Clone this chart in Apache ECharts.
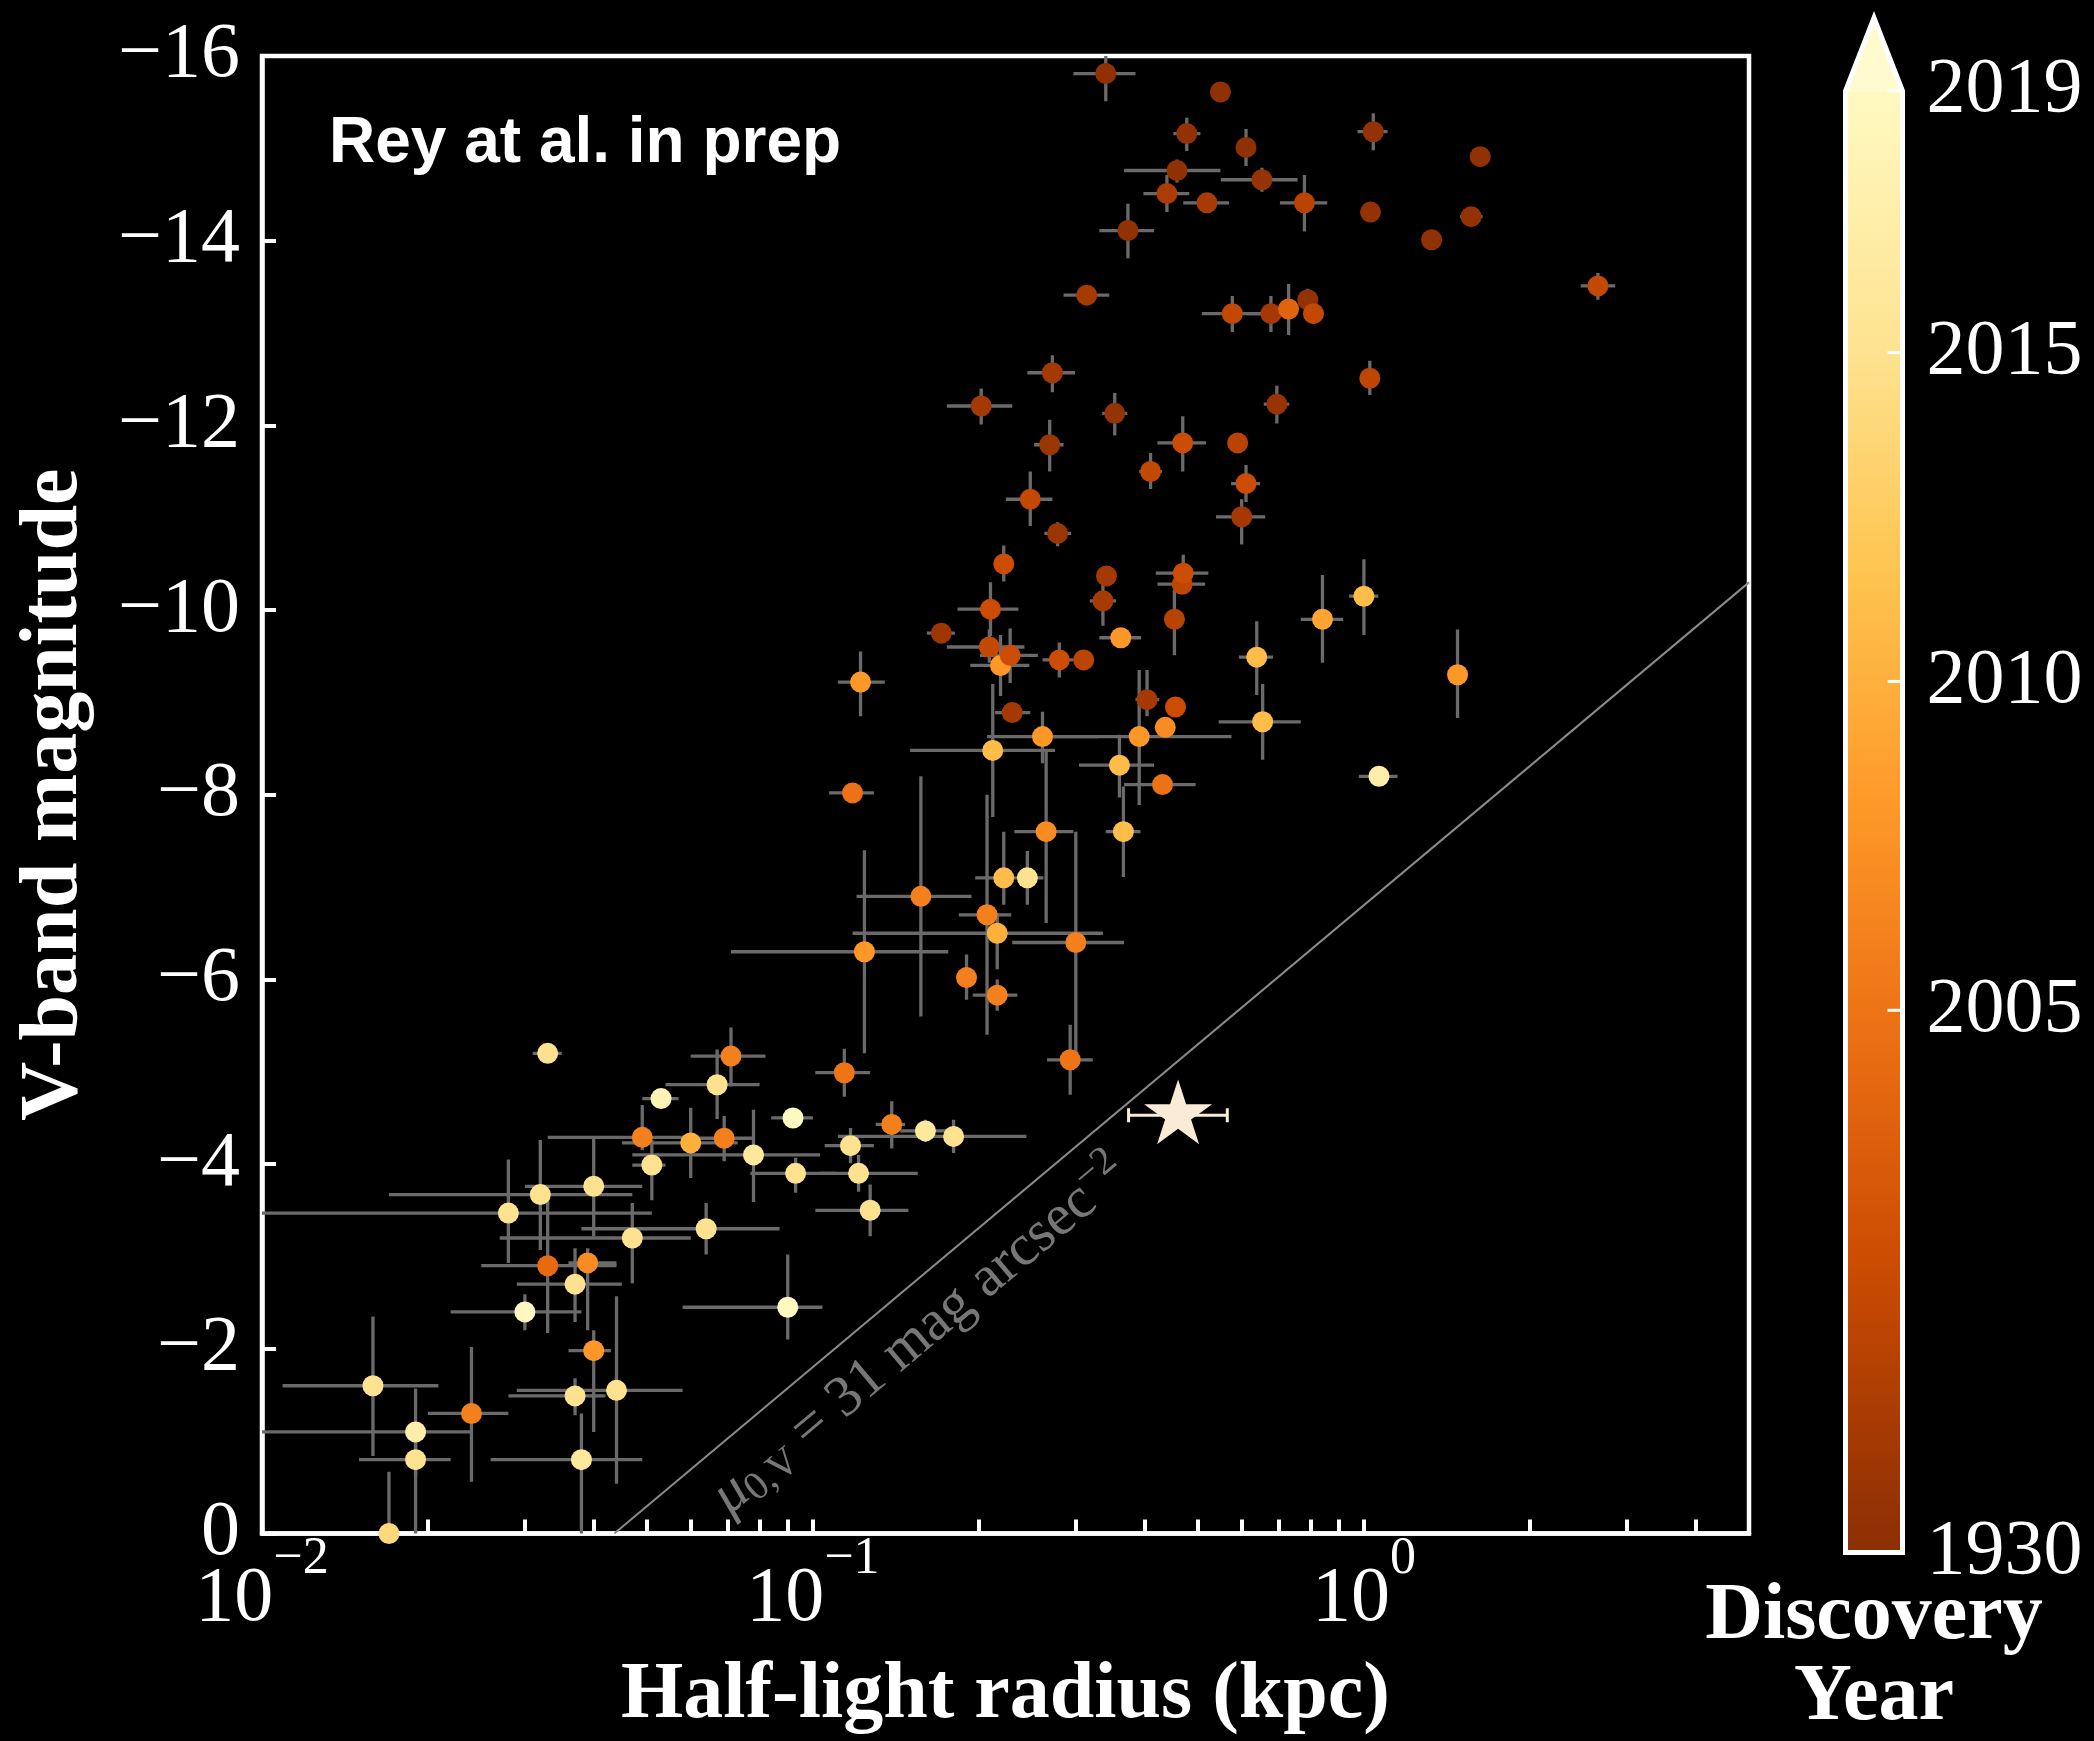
<!DOCTYPE html>
<html lang="en">
<head>
<meta charset="UTF-8">
<title>V-band magnitude vs half-light radius</title>
<script src="https://cdn.jsdelivr.net/npm/echarts@6/dist/echarts.min.js"></script>
<style>
    html, body { margin: 0; padding: 0; background: #000; overflow: hidden; }
    #chart { width: 2094px; height: 1741px; }
</style>
</head>
<body>
<div id="chart"></div>
<script>
// values
var radius = [
    0.340, 0.549, 0.477, 0.611, 0.458, 0.653, 0.439, 0.519, 0.780, 0.373,
    0.314, 0.577, 0.678, 0.791, 0.730, 0.810, 0.272, 0.202, 0.353, 0.695,
    0.269, 0.469, 0.590, 1.040, 1.626, 1.028, 1.565, 1.327, 2.659, 1.025,
    0.410, 0.611, 0.600, 0.248, 0.278, 0.222, 0.341, 0.336, 0.468, 0.470,
    0.453, 0.210, 0.171, 0.209, 0.219, 0.228, 0.280, 0.310, 0.362, 0.639,
    0.655, 0.404, 0.455, 0.436, 0.261, 0.391, 0.212, 0.360, 0.431, 0.265,
    0.366, 0.222, 0.245, 0.122, 0.118, 0.841, 1.000, 1.479, 1.065, 0.230,
    0.157, 0.207, 0.216, 0.300, 0.124, 0.190, 0.216, 0.293, 0.071, 0.114,
    0.067, 0.053, 0.092, 0.139, 0.160, 0.180, 0.117, 0.049, 0.060, 0.069,
    0.051, 0.078, 0.093, 0.121, 0.127, 0.040, 0.064, 0.047, 0.032, 0.028,
    0.033, 0.039, 0.037, 0.030, 0.040, 0.044, 0.037, 0.0159, 0.024, 0.019,
    0.019, 0.038, 0.017, 0.033, 0.090
];
var magV = [
    -15.81, -15.61, -15.16, -15.01, -14.76, -14.66, -14.51, -14.41, -14.41, -14.11,
    -13.41, -13.21, -13.21, -13.36, -13.26, -13.21, -12.57, -12.21, -12.13, -12.23,
    -11.79, -11.81, -11.81, -15.18, -14.91, -14.31, -14.26, -14.01, -13.51, -12.51,
    -11.50, -11.37, -11.01, -11.20, -10.83, -10.50, -10.37, -10.10, -10.28, -10.40,
    -9.90, -10.01, -9.75, -9.60, -9.40, -9.51, -9.46, -9.46, -9.70, -9.49,
    -8.79, -9.03, -8.95, -8.73, -8.63, -8.63, -8.48, -8.32, -8.11, -7.60,
    -7.60, -7.10, -7.10, -9.22, -8.02, -9.90, -10.15, -9.30, -8.20, -8.89,
    -6.90, -6.70, -6.50, -6.40, -6.30, -6.02, -5.83, -5.13, -5.17, -4.99,
    -4.86, -4.71, -4.50, -4.43, -4.36, -4.30, -4.20, -4.29, -4.23, -4.28,
    -3.99, -4.10, -3.90, -3.90, -3.50, -3.76, -3.30, -3.20, -3.67, -3.47,
    -2.90, -2.93, -2.70, -2.40, -1.98, -1.55, -1.49, -1.60, -1.30, -1.10,
    -0.80, -0.80, 0.00, -5.20, -2.45
];
var radiusLow = [
    0.297, null, 0.451, null, 0.367, 0.550, 0.398, 0.470, 0.704, 0.331,
    0.285, 0.508, 0.612, null, null, null, 0.245, 0.175, 0.335, 0.658,
    0.252, 0.422, null, 0.974, null, null, 1.494, null, 2.474, null,
    0.391, 0.574, 0.539, 0.224, 0.263, null, null, 0.318, 0.422, 0.419,
    null, 0.183, 0.161, 0.175, 0.193, 0.201, 0.261, null, 0.331, 0.593,
    0.545, 0.385, null, null, 0.207, 0.266, 0.150, 0.304, 0.367, 0.232,
    0.340, 0.197, 0.238, 0.111, 0.107, 0.768, 0.940, null, 0.979, 0.214,
    0.120, 0.184, 0.118, 0.230, 0.071, null, 0.195, 0.266, 0.060, 0.101,
    0.054, 0.049, 0.084, 0.130, 0.144, 0.111, 0.105, 0.033, 0.045, 0.062,
    0.047, 0.047, 0.077, 0.103, 0.101, 0.030, 0.038, 0.027, 0.017, 0.0095,
    0.025, 0.036, 0.029, 0.022, 0.036, 0.029, 0.028, 0.0109, 0.020, 0.0095,
    0.015, 0.026, null, 0.031, 0.058
];
var radiusHigh = [
    0.385, null, 0.505, null, 0.549, 0.758, 0.482, 0.569, 0.858, 0.416,
    0.345, 0.656, 0.704, null, null, null, 0.299, 0.230, 0.372, 0.732,
    0.285, 0.517, null, 1.104, null, null, 1.642, null, 2.858, null,
    0.430, 0.648, 0.662, 0.272, 0.294, null, null, 0.355, 0.515, 0.522,
    null, 0.236, 0.181, 0.242, 0.247, 0.256, 0.297, null, 0.394, 0.684,
    0.768, 0.425, null, null, 0.330, 0.575, 0.275, 0.416, 0.495, 0.297,
    0.393, 0.243, 0.262, 0.135, 0.129, 0.917, 1.062, null, 1.151, 0.248,
    0.194, 0.229, 0.336, 0.367, 0.176, null, 0.235, 0.322, 0.082, 0.127,
    0.080, 0.057, 0.100, 0.147, 0.181, 0.244, 0.129, 0.062, 0.073, 0.078,
    0.054, 0.103, 0.110, 0.155, 0.149, 0.049, 0.087, 0.060, 0.047, 0.051,
    0.044, 0.044, 0.045, 0.038, 0.043, 0.058, 0.042, 0.0209, 0.028, 0.024,
    0.022, 0.049, null, 0.035, 0.104
];
var magLow = [
    -16.1, null, -15.33, -15.21, -14.88, -14.79, -14.71, null, -14.71, -14.40,
    null, -13.40, -13.40, -13.48, -13.53, null, -12.76, -12.40, -12.35, -12.43,
    -12.06, -12.10, null, -15.38, null, null, null, null, -13.65, -12.70,
    -11.70, -11.57, -11.20, -11.50, -10.95, -10.70, null, -10.28, null, -10.60,
    -10.22, -10.30, null, -9.79, -9.73, -9.80, -9.65, null, null, -9.88,
    -9.20, -9.35, null, null, -8.90, -9.35, -9.20, -8.65, null, -8.49,
    -8.09, -7.60, -7.39, -9.55, null, -10.38, -10.55, -9.79, null, null,
    -8.20, -8.00, -6.72, -7.60, -7.40, -6.27, -6.00, -5.51, -5.48, -5.25,
    -5.24, null, null, -4.68, -4.48, -4.48, -4.39, -4.64, -4.61, -4.52,
    -4.26, -4.59, -4.07, -4.10, -3.78, -4.30, -3.58, -3.58, -4.26, -4.05,
    -3.65, -3.09, -3.09, -2.59, -2.20, -2.57, -1.68, -2.35, -2.02, -1.57,
    -1.00, -1.30, -0.67, null, -3.02
];
var magHigh = [
    -15.51, null, -14.97, -14.81, -14.63, -14.53, -14.31, null, -14.10, -13.81,
    null, -13.01, -13.01, -13.23, -12.98, null, -12.36, -12.01, -11.89, -12.02,
    -11.50, -11.50, null, -14.98, null, null, null, null, -13.36, -12.33,
    -11.31, -11.17, -10.71, -10.91, -10.69, -10.31, null, -9.83, null, -10.22,
    -9.51, -9.72, null, -9.43, -9.07, -9.21, -9.27, null, null, -9.08,
    -8.38, -8.85, null, null, -8.34, -7.89, -7.76, -7.97, null, -6.61,
    -7.11, -6.81, -6.81, -8.85, null, -9.43, -9.73, -8.83, null, null,
    -5.60, -5.40, -6.11, -5.18, -5.20, -5.78, -5.66, -4.75, -4.84, -4.73,
    -4.49, null, null, -4.17, -4.24, -4.12, -4.01, -4.15, -3.85, -4.03,
    -3.61, -3.59, -3.69, -3.70, -3.22, -3.22, -3.02, -2.71, -3.07, -2.93,
    -2.17, -2.20, -2.29, -2.20, -1.10, -0.54, -1.28, -0.84, -0.56, -0.62,
    0.10, 0.10, 0.10, null, -2.10
];
var discoveryYear = [
    1933, 1933, 1934, 1933, 1933, 1936, 1950, 1948, 1958, 1934,
    1947, 1965, 1946, 1935, 1991, 1965, 1946, 1946, 1936, 1938,
    1940, 1970, 1958, 1935, 1934, 1935, 1935, 1934, 1965, 1962,
    1965, 1970, 1946, 1965, 1940, 1970, 1946, 1948, 1962, 1970,
    1958, 1970, 1942, 1965, 2008, 1970, 1970, 1960, 2008, 2011,
    2011, 1946, 1970, 2007, 2008, 2008, 2011, 2011, 2003, 2007,
    2011, 2011, 2015, 2008, 2003, 2009, 2011, 2008, 2017, 1946,
    2006, 2006, 2010, 2006, 2008, 2006, 2006, 2005, 2006, 2005,
    2015, 2018, 2019, 2006, 2016, 2015, 2015, 2006, 2010, 2006,
    2015, 2016, 2015, 2015, 2015, 2015, 2015, 2015, 2015, 2015,
    1997, 2007, 2015, 2019, 2008, 2015, 2015, 2015, 2006, 2017,
    2015, 2016, 2014, 2015, 2019
];

// the new object (star)
var starRadius = [0.46];
var starMag = [-4.53];
var starRadiusLow = [0.374];
var starRadiusHigh = [0.565];

// mu_0,V = 31 mag/arcsec^2 line, two end points
var muLineRadius = [0.0436, 5];
var muLineMag = [0, -10.3];

// axis ticks
var xTickValues = [0.01, 0.02, 0.03, 0.04, 0.05, 0.06, 0.07, 0.08, 0.09,
    0.1, 0.2, 0.3, 0.4, 0.5, 0.6, 0.7, 0.8, 0.9, 1, 2, 3, 4];
var xLabelValues = [0.01, 0.1, 1];

// colour bar: tick years and where they sit on the bar (0 = bottom, 1 = top)
var cbTickYears = [1930, 2005, 2010, 2015, 2019];
var cbTickFrac = [0, 0.371, 0.596, 0.821, 1];
var cbApexFrac = 1.05;

// YlOrBr reversed, only the 0.09..0.89 part is used by the bar
var cmapColors = ['#662506', '#993404', '#cc4c02', '#ec7014', '#fe9929',
    '#fec44f', '#fee391', '#fff7bc', '#ffffe5'];
var cmapRange = [0.09, 0.89];

var SERIF = "'Liberation Serif', 'Times New Roman', serif";
var SANS = "'Liberation Sans', Arial, sans-serif";
var BAR_GREY = '#6a6a6a';
var STAR_COLOR = '#faebd7';

function yearToFrac(y) {
    for (var i = 1; i < cbTickYears.length; i++) {
        if (y <= cbTickYears[i]) {
            var a = cbTickYears[i - 1], b = cbTickYears[i];
            return cbTickFrac[i - 1] + (y - a) / (b - a) * (cbTickFrac[i] - cbTickFrac[i - 1]);
        }
    }
    return 1;
}

function fracToColor(t) {
    var s = cmapRange[0] + t * (cmapRange[1] - cmapRange[0]);
    return echarts.color.lerp(s, cmapColors);
}

var pointData = radius.map(function (r, i) {
    return [r, magV[i], yearToFrac(discoveryYear[i])];
});
var errData = radius.map(function (r, i) {
    return [r, magV[i], radiusLow[i], radiusHigh[i], magLow[i], magHigh[i]];
});

function renderErr(params, api) {
    var r = api.value(0), m = api.value(1);
    var rl = api.value(2), rh = api.value(3), ml = api.value(4), mh = api.value(5);
    var st = { stroke: BAR_GREY, lineWidth: 3.3 };
    var kids = [];
    if (!isNaN(rl) && !isNaN(rh)) {
        var a = api.coord([rl, m]), b = api.coord([rh, m]);
        kids.push({ type: 'line', shape: { x1: a[0], y1: a[1], x2: b[0], y2: b[1] }, style: st });
    }
    if (!isNaN(ml) && !isNaN(mh)) {
        var c = api.coord([r, ml]), d = api.coord([r, mh]);
        kids.push({ type: 'line', shape: { x1: c[0], y1: c[1], x2: d[0], y2: d[1] }, style: st });
    }
    return { type: 'group', children: kids };
}

function renderStarBar(params, api) {
    var m = api.value(1);
    var a = api.coord([api.value(2), m]), b = api.coord([api.value(3), m]);
    var st = { stroke: STAR_COLOR, lineWidth: 3 };
    var cap = 7;
    return {
        type: 'group',
        children: [
            { type: 'line', shape: { x1: a[0], y1: a[1], x2: b[0], y2: b[1] }, style: st },
            { type: 'line', shape: { x1: a[0], y1: a[1] - cap, x2: a[0], y2: a[1] + cap }, style: st },
            { type: 'line', shape: { x1: b[0], y1: b[1] - cap, x2: b[0], y2: b[1] + cap }, style: st }
        ]
    };
}

function renderColorbar(params, api) {
    var lb = api.coord([0, 0]);
    var rt = api.coord([1, 1]);
    var tip = api.coord([0.5, cbApexFrac]);
    var s0 = cmapRange[0], s1 = cmapRange[1];
    var stops = [{ offset: 0, color: echarts.color.lerp(s0, cmapColors) }];
    for (var i = 0; i < cmapColors.length; i++) {
        var s = i / (cmapColors.length - 1);
        if (s > s0 && s < s1) {
            stops.push({ offset: (s - s0) / (s1 - s0), color: cmapColors[i] });
        }
    }
    stops.push({ offset: 1, color: echarts.color.lerp(s1, cmapColors) });
    var kids = [
        {
            type: 'rect',
            shape: { x: lb[0], y: rt[1], width: rt[0] - lb[0], height: lb[1] - rt[1] },
            style: { fill: new echarts.graphic.LinearGradient(0, 1, 0, 0, stops) }
        },
        {
            type: 'polygon',
            shape: { points: [[lb[0], rt[1] + 1], [rt[0], rt[1] + 1], tip] },
            style: { fill: echarts.color.lerp(0.93, cmapColors) }
        },
        {
            type: 'polygon',
            shape: { points: [[lb[0], lb[1]], [rt[0], lb[1]], [rt[0], rt[1]], tip, [lb[0], rt[1]]] },
            style: { fill: null, stroke: '#fff', lineWidth: 5, lineJoin: 'miter' }
        }
    ];
    cbTickYears.forEach(function (y) {
        var p = api.coord([1, yearToFrac(y)]);
        kids.push({
            type: 'line',
            shape: { x1: p[0] - 15, y1: p[1], x2: p[0] - 2, y2: p[1] },
            style: { stroke: '#fff', lineWidth: 3 }
        });
    });
    return { type: 'group', children: kids };
}

var chart = echarts.init(document.getElementById('chart'));

var option = {
    backgroundColor: '#000',
    animation: false,
    title: {
        text: 'Rey at al. in prep',
        left: 329,
        top: 112,
        padding: 0,
        textStyle: { color: '#fff', fontFamily: SANS, fontWeight: 'bold', fontSize: 64 }
    },
    grid: [
        {
            left: 262, top: 56, width: 1487, height: 1477.5,
            show: true, borderColor: '#fff', borderWidth: 4.5, backgroundColor: 'transparent',
            outerBoundsMode: 'none', containLabel: false
        },
        {
            left: 1845.5, top: 17.9, width: 57, height: 1534.6,
            outerBoundsMode: 'none', containLabel: false
        }
    ],
    xAxis: [
        {
            type: 'log', gridIndex: 0, logBase: 10, min: 0.01, max: 5,
            axisLine: { show: true, onZero: false, lineStyle: { color: '#fff', width: 4.5 } },
            axisTick: {
                show: true, inside: true, length: 14, customValues: xTickValues,
                lineStyle: { color: '#fff', width: 4 }
            },
            axisLabel: {
                show: true, customValues: xLabelValues, margin: 0,
                formatter: function (v) {
                    var e = Math.round(Math.log10(v));
                    if (Math.abs(Math.pow(10, e) - v) > 1e-9 * v) return '';
                    var sup = e < 0 ? '\u2212' + (-e) : String(e);
                    return '{b|10}{s|' + sup + '}';
                },
                rich: {
                    b: { fontFamily: SERIF, fontSize: 78, color: '#fff' },
                    s: { fontFamily: SERIF, fontSize: 52, color: '#fff', padding: [0, 0, 80, 0] }
                }
            },
            splitLine: { show: false },
            name: 'Half-light radius (kpc)',
            nameLocation: 'middle',
            nameGap: 123,
            nameMoveOverlap: false,
            nameTextStyle: { color: '#fff', fontFamily: SERIF, fontWeight: 'bold', fontSize: 80 }
        },
        {
            type: 'value', gridIndex: 1, min: 0, max: 1, show: false
        }
    ],
    yAxis: [
        {
            type: 'value', gridIndex: 0, min: -16, max: 0, interval: 2, inverse: true,
            axisLine: { show: true, onZero: false, lineStyle: { color: '#fff', width: 4.5 } },
            axisTick: { show: true, inside: true, length: 14, lineStyle: { color: '#fff', width: 4 } },
            axisLabel: {
                show: true, margin: 22, color: '#fff', fontFamily: SERIF, fontSize: 78,
                formatter: function (v) { return v < 0 ? '\u2212' + (-v) : String(v); }
            },
            splitLine: { show: false },
            name: 'V-band magnitude',
            nameLocation: 'middle',
            nameGap: 166,
            nameMoveOverlap: false,
            nameTextStyle: { color: '#fff', fontFamily: SERIF, fontWeight: 'bold', fontSize: 82 }
        },
        {
            type: 'value', gridIndex: 1, min: 0, max: cbApexFrac,
            offset: -28.5,
            axisLine: { show: false }, axisTick: { show: false },
            axisLabel: { show: false }, splitLine: { show: false },
            name: 'Discovery\nYear',
            nameLocation: 'start',
            nameGap: 24,
            nameMoveOverlap: false,
            nameTextStyle: {
                color: '#fff', fontFamily: SERIF, fontWeight: 'bold', fontSize: 80,
                lineHeight: 81, align: 'center'
            }
        }
    ],
    series: [
        {
            name: 'errors',
            type: 'custom',
            xAxisIndex: 0, yAxisIndex: 0,
            clip: true,
            silent: true,
            z: 2,
            renderItem: renderErr,
            data: errData
        },
        {
            name: 'galaxies',
            type: 'scatter',
            xAxisIndex: 0, yAxisIndex: 0,
            clip: true,
            silent: true,
            z: 3,
            symbol: 'circle',
            symbolSize: 21,
            itemStyle: {
                opacity: 1,
                color: function (p) { return fracToColor(p.value[2]); }
            },
            data: pointData,
            markLine: {
                silent: true,
                symbol: ['none', 'none'],
                animation: false,
                lineStyle: { color: '#8a8a8a', width: 2, type: 'solid' },
                label: {
                    show: true,
                    position: 'insideStartBottom',
                    distance: [100, 10],
                    color: '#777',
                    formatter: '{mu|\u03bc}{sub|0,V}{t| = 31 mag arcsec}{sup|\u22122}',
                    rich: {
                        mu: { fontFamily: SERIF, fontStyle: 'italic', fontSize: 58, color: '#777' },
                        sub: { fontFamily: SERIF, fontSize: 40, color: '#777', padding: [24, 0, 0, 0] },
                        t: { fontFamily: SERIF, fontSize: 58, color: '#777' },
                        sup: { fontFamily: SERIF, fontSize: 40, color: '#777', padding: [0, 0, 30, 0] }
                    }
                },
                data: [[
                    { coord: [muLineRadius[0], muLineMag[0]] },
                    { coord: [muLineRadius[1], muLineMag[1]] }
                ]]
            }
        },
        {
            name: 'star errors',
            type: 'custom',
            xAxisIndex: 0, yAxisIndex: 0,
            clip: true,
            silent: true,
            z: 4,
            renderItem: renderStarBar,
            data: starRadius.map(function (r, i) {
                return [r, starMag[i], starRadiusLow[i], starRadiusHigh[i]];
            })
        },
        {
            name: 'star',
            type: 'scatter',
            xAxisIndex: 0, yAxisIndex: 0,
            silent: true,
            z: 5,
            symbol: 'path://M0,-1 L0.2245,-0.309 L0.951,-0.309 L0.363,0.118 L0.588,0.809 L0,0.382 L-0.588,0.809 L-0.363,0.118 L-0.951,-0.309 L-0.2245,-0.309 Z',
            symbolSize: [68, 64.7],
            symbolOffset: [0, -3.4],
            itemStyle: { color: STAR_COLOR, opacity: 1 },
            data: starRadius.map(function (r, i) { return [r, starMag[i]]; })
        },
        {
            name: 'colorbar',
            type: 'custom',
            xAxisIndex: 1, yAxisIndex: 1,
            clip: false,
            silent: true,
            z: 2,
            renderItem: renderColorbar,
            data: [[0, 0]]
        },
        {
            name: 'colorbar labels',
            type: 'scatter',
            xAxisIndex: 1, yAxisIndex: 1,
            silent: true,
            clip: false,
            z: 3,
            symbol: 'circle',
            symbolSize: 2,
            itemStyle: { color: 'rgba(0,0,0,0)', opacity: 1 },
            label: {
                show: true,
                position: 'right',
                distance: 23,
                color: '#fff',
                opacity: 1,
                fontFamily: SERIF,
                fontSize: 78,
                formatter: function (p) { return String(p.value[2]); }
            },
            labelLayout: { hideOverlap: false },
            data: cbTickYears.map(function (y) { return [1, yearToFrac(y), y]; })
        }
    ]
};

chart.setOption(option);
</script>
</body>
</html>
